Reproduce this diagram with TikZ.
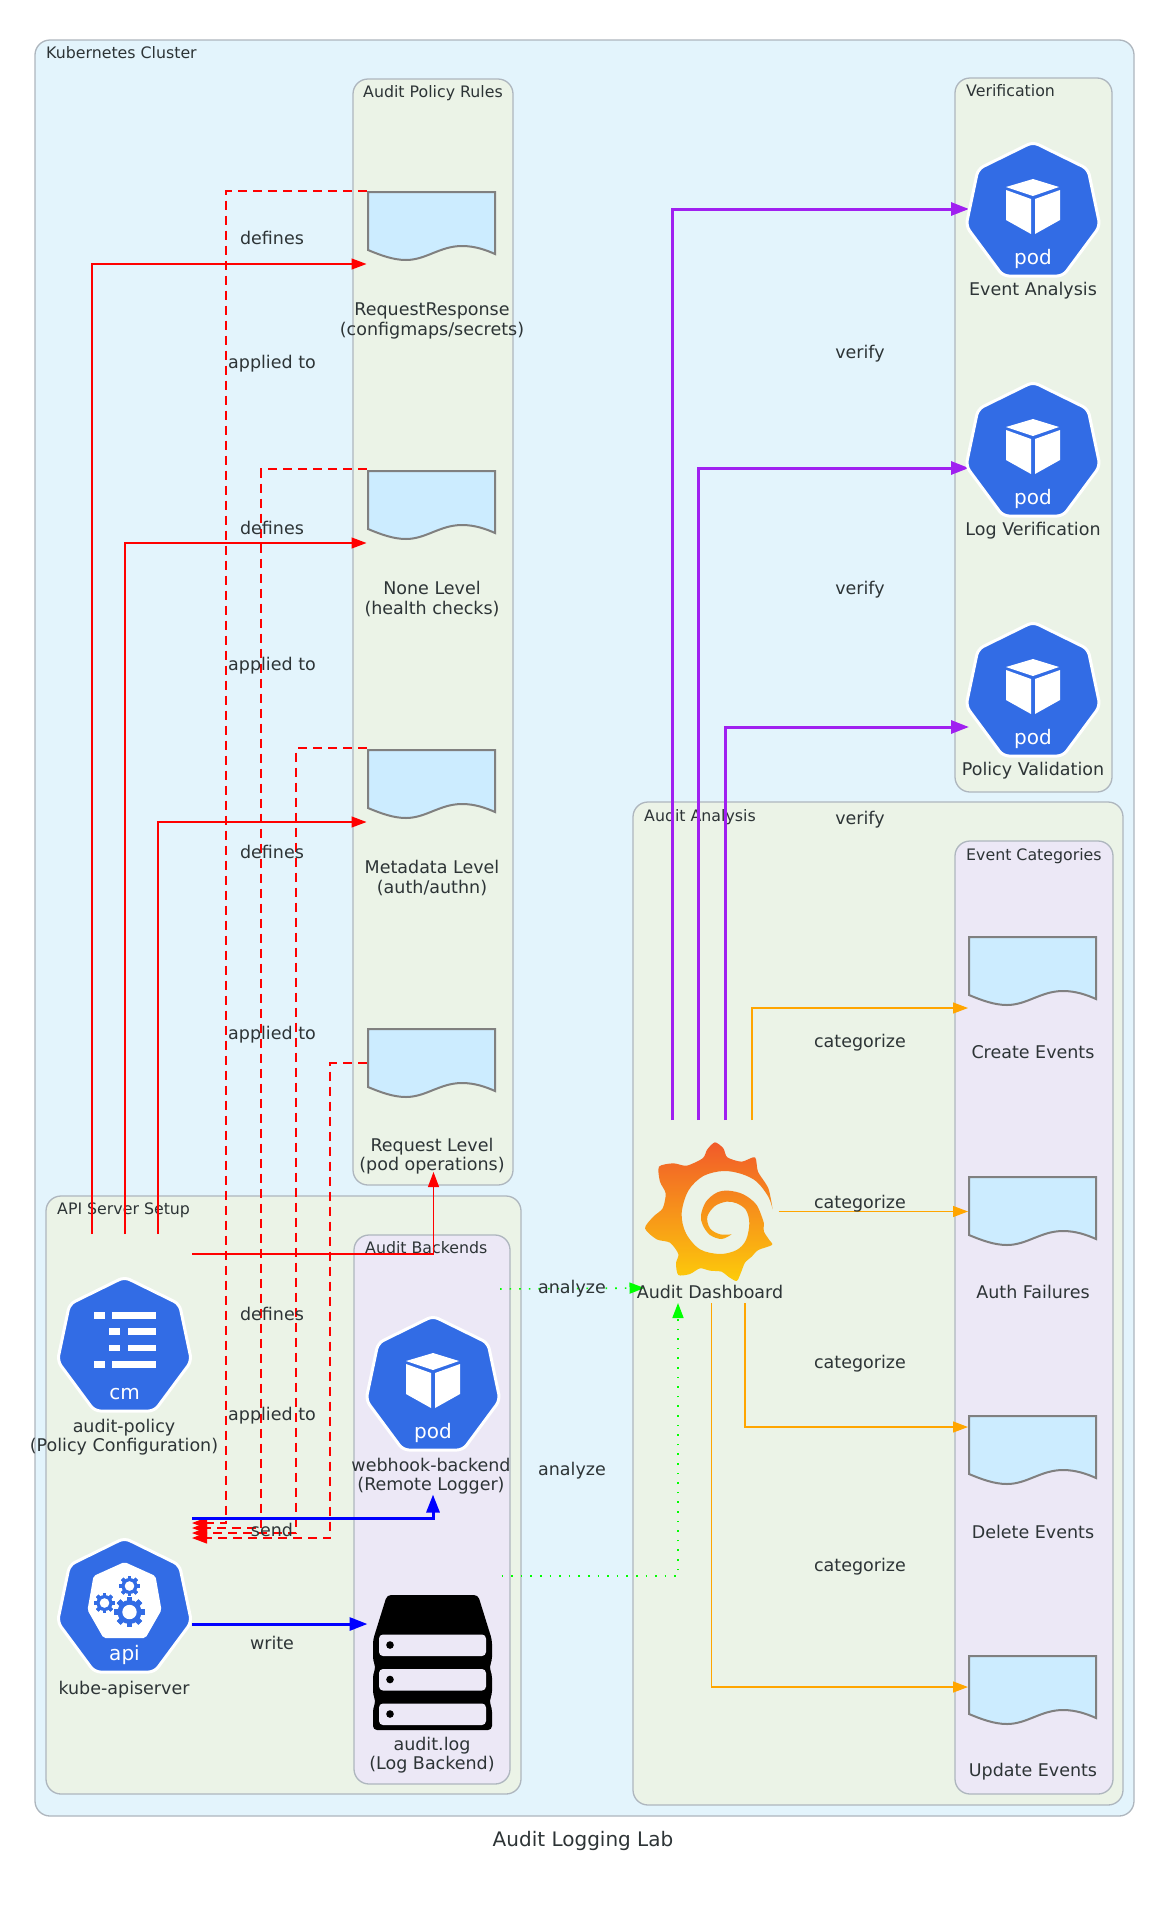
\documentclass[tikz,border=0pt]{standalone}
\usepackage{fontspec}
\setmainfont{DejaVu Sans}
\usetikzlibrary{arrows.meta,calc}
\definecolor{kblue}{HTML}{326CE5}
\definecolor{clblue}{HTML}{E3F4FC}
\definecolor{clgreen}{HTML}{EBF3E7}
\definecolor{clpurple}{HTML}{ECE8F6}
\definecolor{clborder}{HTML}{AEB6BE}
\definecolor{ink}{HTML}{2D3436}
\definecolor{docfill}{HTML}{CCECFF}
\definecolor{dgreen}{HTML}{00FF00}
\definecolor{dpurple}{HTML}{A020F0}
\definecolor{dorange}{HTML}{FFA500}
\tikzset{
  nbox/.style={minimum width=134pt,minimum height=183pt,inner sep=0pt,outer sep=0pt},
  clb/.style={draw=clborder,line width=1.3pt,rounded corners=15pt},
  cllabel/.style={text=ink,inner sep=0pt,yshift=-1.7pt,font=\fontsize{15.8}{18}\selectfont,text height=12pt,text depth=3pt},
  lbl/.style={text=ink,inner sep=0pt,align=center,font=\fontsize{17.5}{19.6}\selectfont},
  elbl/.style={lbl,yshift=-1.8pt,text height=13pt,text depth=4pt},
  thin head/.style={-{Triangle[length=15pt,width=11pt]}},
  thick head/.style={-{Triangle[length=18pt,width=13pt]}},
  redline/.style={draw=red,line width=1.2pt,thin head},
  reddash/.style={draw=red,line width=1.2pt,dash pattern=on 9pt off 6pt,thin head},
  blueline/.style={draw=blue,line width=3pt,thick head},
  purpleline/.style={draw=dpurple,line width=3pt,thick head},
  orangeline/.style={draw=dorange,line width=1.2pt,thin head},
  greenline/.style={draw=dgreen,line width=1.6pt,dash pattern=on 1.6pt off 8pt,thin head},
}
\newcommand{\kubehex}[2]{%
  \path[fill=kblue,draw=white,line width=3pt,rounded corners=6pt,shift={(#1,#2)}]
    (0,0) -- (55,27) -- (67,84) -- (30,134) -- (-30,134) -- (-67,84) -- (-55,27) -- cycle;}
\newcommand{\hextext}[3]{\node[text=white,inner sep=0pt,font=\fontsize{20}{22}\selectfont,text height=15pt,text depth=4pt] at ($(#1,#2)+(0,117)$) {#3};}
\newcommand{\podicon}[2]{%
  \kubehex{#1}{#2}%
  \begin{scope}[shift={(#1,#2)}]
    \fill[white] (0,37) -- (26,45) -- (0,54) -- (-27,45) -- cycle;
    \fill[white] (-27,48) -- (-2,57) -- (-2,92) -- (-27,78) -- cycle;
    \fill[white] (2,57) -- (27,48) -- (27,78) -- (2,92) -- cycle;
  \end{scope}%
  \hextext{#1}{#2}{pod}}
\newcommand{\cmicon}[2]{%
  \kubehex{#1}{#2}%
  \begin{scope}[shift={(#1,#2)}]
    \foreach \yy in {35,84}{\fill[white] (-31,\yy) rectangle (-20,\yy+6.5);\fill[white] (-12.5,\yy) rectangle (31,\yy+6.5);}
    \foreach \yy in {51,67.5}{\fill[white] (-15.5,\yy) rectangle (-4.5,\yy+6.5);\fill[white] (3.3,\yy) rectangle (31,\yy+6.5);}
  \end{scope}%
  \hextext{#1}{#2}{cm}}
\newcommand{\kgear}[3]{%
  \fill[kblue] (#1,#2) circle (#3);
  \foreach \aa in {0,45,...,315}{\fill[kblue,rotate around={\aa:(#1,#2)}] ($(#1,#2)+(-#3*.22,-#3*1.28)$) rectangle ($(#1,#2)+(#3*.22,#3*1.28)$);}
  \fill[white] (#1,#2) circle (#3*.6);}
\newcommand{\apiicon}[2]{%
  \kubehex{#1}{#2}%
  \begin{scope}[shift={(#1,#2)}]
    \fill[white,rounded corners=2pt] (0,24) -- (31,38) -- (37,72) -- (21,100) -- (-21,100) -- (-37,72) -- (-31,38) -- cycle;
    \kgear{-20}{65}{8}
    \kgear{5}{48}{8}
    \kgear{5}{74}{12}
  \end{scope}%
  \hextext{#1}{#2}{api}}
\newcommand{\docicon}[2]{%
  \path[shift={(#1,#2)},fill=docfill,draw=gray,line width=2pt,line join=miter]
    (0,0) -- (127,0) -- (127,62) .. controls (118,58) and (107,54) .. (94,54)
    .. controls (72,54) and (58,68) .. (38,68) .. controls (25,68) and (12,63) .. (0,58) -- cycle;}
\begin{document}
\begin{tikzpicture}[x=1pt,y=-1pt]
\useasboundingbox (0,0) rectangle (1169,1909);
\fill[white] (0,0) rectangle (1169,1909);
% clusters
\path[clb,fill=clblue] (35,40) rectangle (1134,1816);
\path[clb,fill=clgreen] (353,79) rectangle (513,1185);
\path[clb,fill=clgreen] (955,78) rectangle (1112,792);
\path[clb,fill=clgreen] (633,802) rectangle (1123,1805);
\path[clb,fill=clpurple] (955,841) rectangle (1113,1794);
\path[clb,fill=clgreen] (46,1196) rectangle (521,1794);
\path[clb,fill=clpurple] (354,1235) rectangle (510,1784);
\node[cllabel,anchor=west] (lkube) at (46,52) {Kubernetes Cluster};
\node[cllabel] (lrules) at (433,91) {Audit Policy Rules};
\node[cllabel,anchor=west] (lverif) at (966,90) {Verification};
\node[cllabel,anchor=west] (lanal) at (644,815) {Audit Analysis};
\node[cllabel,anchor=west] (lcat) at (966,854) {Event Categories};
\node[cllabel,anchor=west] (lapi) at (57,1208) {API Server Setup};
\node[cllabel,anchor=west] (lback) at (365,1247) {Audit Backends};
% connector boxes
\node[nbox] (policy) at (125,1325.5) {};
\node[nbox] (api) at (125,1624) {};
\node[nbox] (webhook) at (433,1403) {};
\node[nbox] (log) at (434.5,1624) {};
\node[nbox] (rr) at (433.5,264) {};
\node[nbox] (none) at (433.5,543) {};
\node[nbox] (meta) at (433.5,822) {};
\node[nbox] (req) at (433.5,1080.5) {};
\node[nbox] (graf) at (711.5,1211.5) {};
\node[nbox] (ea) at (1036,209) {};
\node[nbox] (lv) at (1036,468) {};
\node[nbox] (pv) at (1036,727) {};
\node[nbox] (create) at (1035,1008) {};
\node[nbox] (auth) at (1035,1211.5) {};
\node[nbox] (delete) at (1035,1427) {};
\node[nbox] (update) at (1035,1687) {};
\coordinate (b1) at (226,1523);
\coordinate (b2) at (261,1528);
\coordinate (b3) at (296,1533);
\coordinate (b4) at (330,1538);
% red
\draw[reddash] ([yshift=73pt]rr.west) -| (b1) -- (b1 -| api.east);
\draw[reddash] ([yshift=74pt]none.west) -| (b2) -- (b2 -| api.east);
\draw[reddash] ([yshift=74pt]meta.west) -| (b3) -- (b3 -| api.east);
\draw[reddash] ([yshift=17.5pt]req.west) -| (b4) -- (b4 -| api.east);
\draw[redline] ([xshift=-33pt]policy.north) |- (rr.west);
\draw[redline] (policy.north) |- (none.west);
\draw[redline] ([xshift=33pt]policy.north) |- (meta.west);
\draw[redline] ([yshift=71.5pt]policy.east) -| (req.south);
% blue
\draw[blueline] ([yshift=106pt]api.east) -| (webhook.south);
\draw[blueline] (api.east) -- (log.west);
% green
\draw[greenline] ([yshift=114pt]webhook.east) -- ([yshift=-76.5pt]graf.west);
\draw[greenline] ([yshift=48pt]log.east) -| ([xshift=-33.5pt]graf.south);
% purple
\draw[purpleline] ([xshift=-39.5pt]graf.north) |- (ea.west);
\draw[purpleline] ([xshift=-13.5pt]graf.north) |- (lv.west);
\draw[purpleline] ([xshift=13.5pt]graf.north) |- (pv.west);
% orange
\draw[orangeline] ([xshift=40.5pt]graf.north) |- (create.west);
\draw[orangeline] (graf.east) -- (auth.west);
\draw[orangeline] ([xshift=33.5pt]graf.south) |- (delete.west);
\draw[orangeline] (graf.south) |- (update.west);
% icons
\cmicon{124.5}{1277}
\apiicon{124.5}{1538}
\podicon{433}{1316}
\podicon{1033}{142}
\podicon{1033}{382}
\podicon{1033}{622}
\docicon{368}{192}
\docicon{368}{471}
\docicon{368}{750}
\docicon{368}{1029}
\docicon{969}{937}
\docicon{969}{1177}
\docicon{969}{1416}
\docicon{969}{1656}
% storage
\path[fill=black,rounded corners=4pt] (387,1595) -- (478,1595) -- (492,1640) -- (492,1661) -- (489,1667) -- (492,1674) -- (492,1695) -- (489,1701) -- (492,1708) -- (492,1730) -- (373,1730) -- (373,1708) -- (376,1701) -- (373,1695) -- (373,1674) -- (376,1667) -- (373,1661) -- (373,1640) -- cycle;
\foreach \yy/\dd in {1634.5/1645,1669/1679.5,1703.5/1714}{
  \fill[clpurple,rounded corners=4pt] (379,\yy) rectangle (486,\yy+21.5);
  \fill[black] (390,\dd) circle (3.8);
}
% grafana
\begin{scope}[shift={(620,1100)},x=.3333pt,y=-.3333pt]
\shade[top color={rgb,255:red,241;green,90;blue,42},middle color={rgb,255:red,245;green,118;blue,34},bottom color={rgb,255:red,253;green,204;blue,10}]
 plot[smooth,tension=.55] coordinates {(458,328) (445,290) (410,245) (365,222) (310,213) (250,228) (205,272) (185,340) (198,400) (240,448) (300,462) (350,450) (378,420) (388,370) (378,330) (350,310) (320,305) (285,318) (262,350) (270,385) (300,403) (335,403)}
 -- plot[smooth,tension=.55] coordinates {(335,403) (305,417) (270,405) (248,375) (243,345) (258,305) (290,278) (325,272) (370,283) (410,315) (432,370)}
 -- plot[smooth,tension=.45] coordinates {(432,370) (432,395) (448,420) (456,435) (415,450) (395,470) (375,488) (362,520) (350,543) (325,530) (305,515) (270,512) (240,505) (210,522) (175,525) (168,490) (175,462) (150,428) (110,418) (75,385) (100,350) (128,325) (137,280) (120,245) (117,200) (160,190) (200,197) (248,175) (262,148) (285,127) (310,145) (322,172) (365,185) (405,172) (414,215) (445,265) (458,328)}
 -- cycle;
\end{scope}
% node labels
\node[lbl] (tpolicy) at (124,1437) {audit-policy\\(Policy Configuration)};
\node[lbl] (tapi) at (124,1690) {kube-apiserver};
\node[lbl] (twebhook) at (431,1476) {webhook-backend\\(Remote Logger)};
\node[lbl] (tlog) at (432,1755) {audit.log\\(Log Backend)};
\node[lbl] (trr) at (432,321) {RequestResponse\\(configmaps/secrets)};
\node[lbl] (tnone) at (432,599) {None Level\\(health checks)};
\node[lbl] (tmeta) at (432,878) {Metadata Level\\(auth/authn)};
\node[lbl] (treq) at (432,1156) {Request Level\\(pod operations)};
\node[lbl] (tgraf) at (710,1292) {Audit Dashboard};
\node[lbl] (tea) at (1033,291) {Event Analysis};
\node[lbl] (tlv) at (1033,531) {Log Verification};
\node[lbl] (tpv) at (1033,771) {Policy Validation};
\node[lbl] (tcreate) at (1033,1052) {Create Events};
\node[lbl] (tauth) at (1033,1292) {Auth Failures};
\node[lbl] (tdelete) at (1033,1532) {Delete Events};
\node[lbl] (tupdate) at (1033,1772) {Update Events};
% edge labels
\foreach \yy/\nn in {238/d1,528/d2,852/d3,1314/d4}{\node[elbl] (\nn) at (272,\yy) {defines};}
\foreach \yy/\nn in {362/a1,664/a2,1033/a3,1414/a4}{\node[elbl] (\nn) at (272,\yy) {applied to};}
\node[elbl] (esend) at (272,1530) {send};
\node[elbl] (ewrite) at (272,1643) {write};
\node[elbl] (an1) at (572,1287) {analyze};
\node[elbl] (an2) at (572,1469) {analyze};
\foreach \yy/\nn in {352/v1,588/v2,818/v3}{\node[elbl] (\nn) at (860,\yy) {verify};}
\foreach \yy/\nn in {1041/c1,1202/c2,1362/c3,1565/c4}{\node[elbl] (\nn) at (860,\yy) {categorize};}
\node[text=ink,inner sep=0pt,font=\fontsize{20}{22}\selectfont] (title) at (583,1841) {Audit Logging Lab};
\end{tikzpicture}
\end{document}
